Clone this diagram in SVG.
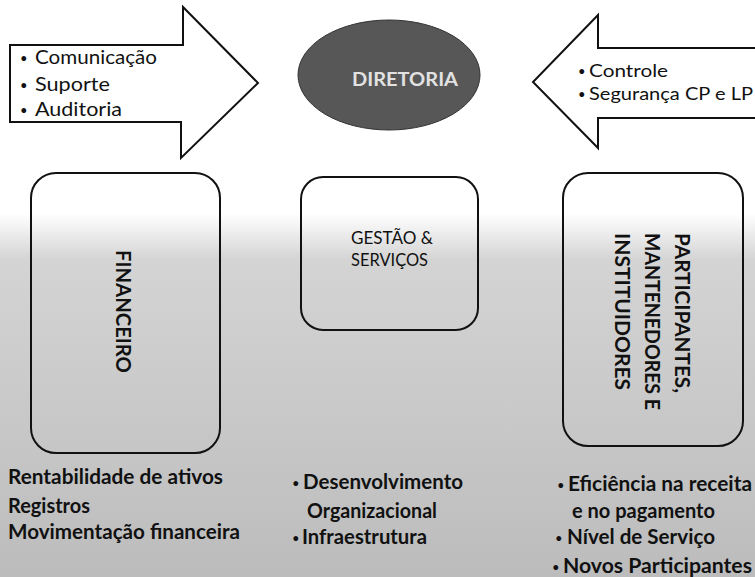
<svg xmlns="http://www.w3.org/2000/svg" width="755" height="577" viewBox="0 0 755 577">
<style>
.arrow{fill:#fff;stroke:#111;stroke-width:2;stroke-linejoin:miter}
.box{fill:none;stroke:#111;stroke-width:2}
.t{font-family:Lato,"Open Sans",sans-serif;fill:#111}
.reg{font-weight:normal;font-size:20px}
.reg2{font-weight:normal;font-size:17px}
.bold{font-weight:bold;font-size:20px}
.bul{font-size:13px}
.vt{font-family:Lato,"Open Sans",sans-serif;font-weight:bold;font-size:20px;fill:#111}
</style>
<defs>
<linearGradient id="bg" x1="0" y1="0" x2="0" y2="1">
<stop offset="0" stop-color="#ffffff"/>
<stop offset="0.37" stop-color="#ffffff"/>
<stop offset="0.45" stop-color="#d4d4d4"/>
<stop offset="1" stop-color="#bcbcbc"/>
</linearGradient>
</defs>
<rect x="0" y="0" width="755" height="577" fill="url(#bg)"/>

<g id="arrow-left">
<polygon class="arrow" points="10,45 183,45 183,7 258,83 181,158 181,122 10,122"/>
<text class="t bul" x="20" y="63">•</text>
<text class="t reg" x="35" y="64" textLength="122" lengthAdjust="spacingAndGlyphs">Comunicação</text>
<text class="t bul" x="20" y="90">•</text>
<text class="t reg" x="35" y="91" textLength="75" lengthAdjust="spacingAndGlyphs">Suporte</text>
<text class="t bul" x="20" y="115">•</text>
<text class="t reg" x="35" y="116" textLength="87" lengthAdjust="spacingAndGlyphs">Auditoria</text>
</g>

<g id="arrow-right">
<polygon class="arrow" points="762,48 598,48 598,15 533,82 598,148 598,118 762,118"/>
<text class="t bul" x="578" y="76">•</text>
<text class="t reg2" x="589" y="77" textLength="79" lengthAdjust="spacingAndGlyphs">Controle</text>
<text class="t bul" x="578" y="99">•</text>
<text class="t reg2" x="589" y="100" textLength="164" lengthAdjust="spacingAndGlyphs">Segurança CP e LP</text>
</g>

<g id="diretoria">
<ellipse cx="389" cy="75" rx="91" ry="55" fill="#575757" stroke="#333" stroke-width="1"/>
<text x="405" y="86" text-anchor="middle" font-family="Lato,'Open Sans',sans-serif" font-weight="bold" font-size="19" fill="#e2e2e2" textLength="106" lengthAdjust="spacingAndGlyphs">DIRETORIA</text>
</g>

<g id="financeiro">
<rect class="box" x="31" y="173" width="189" height="280" rx="25" ry="25"/>
<text class="vt" transform="translate(116,250) rotate(90)" x="0" y="0" textLength="123" lengthAdjust="spacingAndGlyphs">FINANCEIRO</text>
</g>

<g id="gestao">
<rect class="box" x="301" y="177" width="177" height="153" rx="22" ry="22"/>
<text class="t" font-size="17"><tspan x="351" y="244" textLength="82" lengthAdjust="spacingAndGlyphs">GESTÃO &amp;</tspan><tspan x="351" y="266" textLength="77" lengthAdjust="spacingAndGlyphs">SERVIÇOS</tspan></text>
</g>

<g id="participantes">
<rect class="box" x="563" y="173" width="180" height="273" rx="25" ry="25"/>
<text class="vt" transform="translate(675,233) rotate(90)" x="0" y="0" textLength="160" lengthAdjust="spacingAndGlyphs">PARTICIPANTES,</text>
<text class="vt" transform="translate(645,233) rotate(90)" x="0" y="0" textLength="177" lengthAdjust="spacingAndGlyphs">MANTENEDORES E</text>
<text class="vt" transform="translate(615,233) rotate(90)" x="0" y="0" textLength="157" lengthAdjust="spacingAndGlyphs">INSTITUIDORES</text>
</g>

<g id="lista-financeiro">
<text class="t bold" x="8" y="484" textLength="215" lengthAdjust="spacingAndGlyphs">Rentabilidade de ativos</text>
<text class="t bold" x="8" y="513" textLength="82" lengthAdjust="spacingAndGlyphs">Registros</text>
<text class="t bold" x="8" y="539" textLength="232" lengthAdjust="spacingAndGlyphs">Movimentação financeira</text>
</g>

<g id="lista-gestao">
<text class="t bul" x="292" y="488">•</text>
<text class="t bold" x="303" y="489" textLength="160" lengthAdjust="spacingAndGlyphs">Desenvolvimento</text>
<text class="t bold" x="307" y="518" textLength="130" lengthAdjust="spacingAndGlyphs">Organizacional</text>
<text class="t bul" x="292" y="543">•</text>
<text class="t bold" x="302" y="544" textLength="125" lengthAdjust="spacingAndGlyphs">Infraestrutura</text>
</g>

<g id="lista-participantes">
<text class="t bul" x="557" y="490">•</text>
<text class="t bold" x="568" y="491" textLength="184" lengthAdjust="spacingAndGlyphs">Eficiência na receita</text>
<text class="t bold" x="572" y="518" textLength="143" lengthAdjust="spacingAndGlyphs">e no pagamento</text>
<text class="t bul" x="555" y="543">•</text>
<text class="t bold" x="567" y="544" textLength="148" lengthAdjust="spacingAndGlyphs">Nível de Serviço</text>
<text class="t bul" x="552" y="572">•</text>
<text class="t bold" x="563" y="573" textLength="189" lengthAdjust="spacingAndGlyphs">Novos Participantes</text>
</g>
</svg>
